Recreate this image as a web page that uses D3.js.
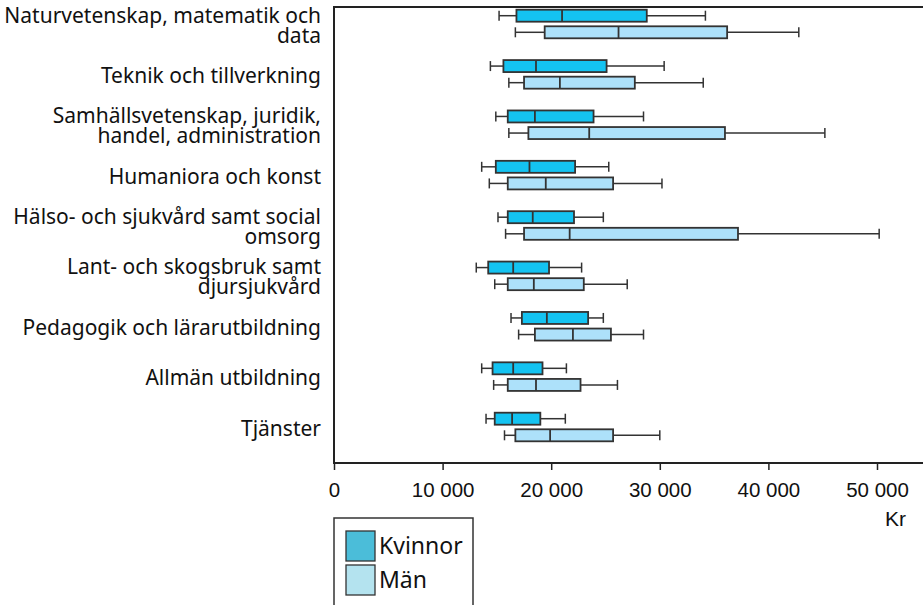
<!DOCTYPE html>
<html><head><meta charset="utf-8">
<script src="https://cdn.jsdelivr.net/npm/d3@7/dist/d3.min.js"></script>
<style>
html,body{margin:0;padding:0;background:#fff;}
svg{display:block;}
</style></head>
<body>
<svg id="chart" width="923" height="605"></svg>
<script>
// ---- data ----
const categories = [
  ["Naturvetenskap, matematik och", "data"],
  ["Teknik och tillverkning"],
  ["Samhällsvetenskap, juridik,", "handel, administration"],
  ["Humaniora och konst"],
  ["Hälso- och sjukvård samt social", "omsorg"],
  ["Lant- och skogsbruk samt", "djursjukvård"],
  ["Pedagogik och lärarutbildning"],
  ["Allmän utbildning"],
  ["Tjänster"]
];
const seriesNames = ["Kvinnor", "Män"];
const kvinnorMin = [15200, 14400, 14900, 13600, 15100, 13100, 16300, 13600, 14000];
const kvinnorQ1  = [16800, 15600, 16000, 14900, 16000, 14200, 17300, 14600, 14800];
const kvinnorMed = [21000, 18600, 18500, 18000, 18300, 16500, 19600, 16500, 16400];
const kvinnorQ3  = [28800, 25100, 23900, 22200, 22100, 19800, 23400, 19200, 19000];
const kvinnorMax = [34200, 30400, 28500, 25300, 24800, 22800, 24800, 21400, 21300];
const manMin = [16700, 16100, 16100, 14300, 15800, 14800, 17000, 14700, 15700];
const manQ1  = [19400, 17500, 17900, 16000, 17500, 16000, 18500, 16000, 16700];
const manMed = [26200, 20800, 23500, 19500, 21700, 18400, 22000, 18600, 19900];
const manQ3  = [36200, 27700, 36000, 25700, 37200, 23000, 25500, 22700, 25700];
const manMax = [42800, 34000, 45200, 30200, 50200, 27000, 28500, 26100, 30000];
const tickValues = [0, 10000, 20000, 30000, 40000, 50000];
const axisUnit = "Kr";

// ---- build ----
const svg = d3.select("#chart");
const plotLeft = 334, plotTop = 7, plotBottom = 463, plotRight = 923;
const x = d3.scaleLinear().domain([0, 50000]).range([plotLeft, 877]);
const catIdx = categories.map((d, i) => i);
const y = d3.scalePoint().domain(catIdx).range([plotTop + 17, plotBottom - 36]);
const sub = d3.scalePoint().domain(seriesNames).range([-8.3, 8.3]);
const fills = {"Kvinnor": "#14c3f1", "Män": "#ade1fa"};
const legendFills = {"Kvinnor": "#4bbdd9", "Män": "#b4e3ef"};
const stroke = "#333";
const boxH = 12, capH = 10;

const rows = [];
catIdx.forEach(i => {
  rows.push({cat: i, s: "Kvinnor", min: kvinnorMin[i], q1: kvinnorQ1[i], med: kvinnorMed[i], q3: kvinnorQ3[i], max: kvinnorMax[i]});
  rows.push({cat: i, s: "Män", min: manMin[i], q1: manQ1[i], med: manMed[i], q3: manQ3[i], max: manMax[i]});
});

const fmt = d3.formatLocale({decimal: ",", thousands: " ", grouping: [3], currency: ["", " kr"]}).format(",d");

// frame top
svg.append("line").attr("x1", plotLeft).attr("x2", plotRight).attr("y1", plotTop).attr("y2", plotTop)
  .attr("stroke", "#222").attr("stroke-width", 2);

// x axis
const xAxis = d3.axisBottom(x).tickValues(tickValues).tickFormat(fmt).tickSize(7).tickSizeOuter(0);
const gx = svg.append("g").attr("transform", `translate(0,${plotBottom})`).call(xAxis);
gx.select(".domain").remove();
gx.append("line").attr("x1", plotLeft).attr("x2", plotRight).attr("y1", 0).attr("y2", 0)
  .attr("stroke", "#222").attr("stroke-width", 2);
gx.selectAll(".tick line").attr("stroke", "#222").attr("stroke-width", 1.5);
gx.selectAll(".tick text").attr("fill", "#111").attr("font-family", "'Liberation Sans', Arial, sans-serif")
  .attr("font-size", 20.5).attr("dy", 0).attr("y", 34);
svg.append("text").attr("x", 906).attr("y", 526).attr("text-anchor", "end")
  .attr("font-family", "'Liberation Sans', Arial, sans-serif").attr("font-size", 21).attr("fill", "#111").text(axisUnit);

svg.append("line").attr("x1", plotLeft).attr("x2", plotLeft).attr("y1", plotTop - 1).attr("y2", plotBottom + 1)
  .attr("stroke", "#222").attr("stroke-width", 2);

// category labels
const lab = svg.append("g").attr("font-family", "'Noto Sans', 'Open Sans', sans-serif")
  .attr("font-size", 21).attr("fill", "#111").attr("text-anchor", "end");
catIdx.forEach(i => {
  const lines = categories[i];
  const lh = 20;
  const t = lab.append("text").attr("x", 321).attr("y", y(i) + 1);
  lines.forEach((ln, k) => {
    t.append("tspan").attr("x", 321)
      .attr("y", y(i) + 1 + (k - (lines.length - 1) / 2) * lh)
      .attr("dy", "0.36em").text(ln);
  });
});

// boxes
const g = svg.append("g");
const bx = g.selectAll("g.box").data(rows).join("g").attr("class", "box")
  .attr("transform", d => `translate(0,${y(d.cat) + sub(d.s)})`);
bx.append("line").attr("x1", d => x(d.min)).attr("x2", d => x(d.q1)).attr("stroke", stroke).attr("stroke-width", 1.5);
bx.append("line").attr("x1", d => x(d.q3)).attr("x2", d => x(d.max)).attr("stroke", stroke).attr("stroke-width", 1.5);
bx.append("line").attr("x1", d => x(d.min)).attr("x2", d => x(d.min)).attr("y1", -capH / 2).attr("y2", capH / 2).attr("stroke", stroke).attr("stroke-width", 1.5);
bx.append("line").attr("x1", d => x(d.max)).attr("x2", d => x(d.max)).attr("y1", -capH / 2).attr("y2", capH / 2).attr("stroke", stroke).attr("stroke-width", 1.5);
bx.append("rect").attr("x", d => x(d.q1)).attr("width", d => x(d.q3) - x(d.q1))
  .attr("y", -boxH / 2).attr("height", boxH).attr("fill", d => fills[d.s]).attr("stroke", stroke).attr("stroke-width", 1.8);
bx.append("line").attr("x1", d => x(d.med)).attr("x2", d => x(d.med)).attr("y1", -boxH / 2).attr("y2", boxH / 2).attr("stroke", stroke).attr("stroke-width", 1.8);

// legend
const lg = svg.append("g");
lg.append("rect").attr("x", 334).attr("y", 518).attr("width", 139).attr("height", 100)
  .attr("fill", "#fff").attr("stroke", "#333").attr("stroke-width", 1.5);
seriesNames.forEach((s, k) => {
  const yy = 531 + k * 34;
  lg.append("rect").attr("x", 346).attr("y", yy).attr("width", 29).attr("height", 30)
    .attr("fill", legendFills[s]).attr("stroke", "#333").attr("stroke-width", 1.3);
  lg.append("text").attr("x", 379).attr("y", yy + 15).attr("dy", "0.36em")
    .attr("font-family", "'Noto Sans', 'Open Sans', sans-serif").attr("font-size", 23).attr("fill", "#111").text(s);
});
</script>
</body></html>
